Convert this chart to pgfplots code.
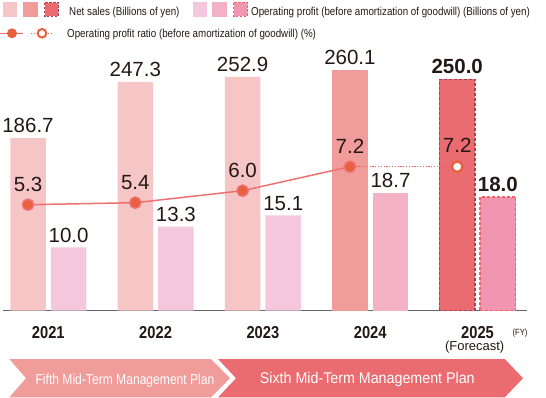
\documentclass[border=0pt]{standalone}
\usepackage{pgfplots}
\pgfplotsset{compat=1.18}
\usepackage{fontspec}
\setmainfont{Liberation Sans}
\newfontfamily\cond[FakeStretch=0.85]{Liberation Sans}
\usepackage{graphicx}

\definecolor{salesL}{HTML}{F6C5C6}
\definecolor{salesM}{HTML}{F09C9B}
\definecolor{salesD}{HTML}{EA6C70}
\definecolor{profL}{HTML}{F4C7DD}
\definecolor{profM}{HTML}{F3B1C5}
\definecolor{profD}{HTML}{F096B1}
\definecolor{ratioL}{HTML}{EE7172}
\definecolor{marker}{HTML}{EA603F}
\definecolor{dashS}{HTML}{A9414F}
\definecolor{dashP}{HTML}{F0616B}
\definecolor{dotc}{HTML}{EE5A5E}
\definecolor{txt}{HTML}{231815}
\definecolor{axisc}{HTML}{666666}

\pgfplotsset{
  base/.style={at={(3pt,-310.7pt)}, anchor=south west, scale only axis,
    width=524pt, height=310.7pt, xmin=-0.4222, xmax=4.4613, ymin=0, clip=false},
  vlab/.style 2 args={nodes near coords={\pgfmathprintnumber[fixed,fixed zerofill,precision=1,assume math mode=true]{\pgfplotspointmeta}},
    every node near coord/.append style={anchor=base, inner sep=0pt, yshift=#1, xshift=#2, text=txt, font=\fontsize{20.5}{22}\selectfont}},
  vlabB/.style 2 args={nodes near coords={\pgfmathprintnumber[fixed,fixed zerofill,precision=1,assume math mode=true]{\pgfplotspointmeta}},
    every node near coord/.append style={anchor=base, inner sep=0pt, yshift=#1, xshift=#2, text=txt, font=\bfseries\fontsize{20.5}{22}\selectfont}},
}

\begin{document}
\begin{tikzpicture}
\path[use as bounding box] (0,0) rectangle (546pt,-398pt);

% ---------- Net sales ----------
\begin{axis}[base, ymax=335.9,
  axis x line=bottom, axis y line=none,
  x axis line style={-, draw=axisc, line width=1pt},
  xtick={0,1,2,3,4}, xticklabels={2021,2022,2023,2024,2025},
  xtick style={draw=none}, ytick=\empty,
  xticklabel style={anchor=north, inner sep=0pt, yshift=-13.3pt, text=txt,
    font=\cond\bfseries\fontsize{17.3}{19}\selectfont}]
\addplot[ybar, bar width=35.5pt, bar shift=-20.3pt, fill=salesL, draw=none, vlab={5.5pt}{-20.3pt}]
  coordinates {(0,186.7) (1,247.3) (2,252.9)};
\addplot[ybar, bar width=35.5pt, bar shift=-20.3pt, fill=salesM, draw=none, vlab={5.5pt}{-20.3pt}]
  coordinates {(3,260.1)};
\addplot[ybar, bar width=35.5pt, bar shift=-20.3pt, fill=salesD, draw=dashS, line width=1.3pt,
  dash pattern=on 3pt off 2pt, vlabB={5.5pt}{-20.3pt}]
  coordinates {(4,250.0)};
\end{axis}

% ---------- Operating profit ----------
\begin{axis}[base, ymax=49.16, hide axis]
\addplot[ybar, bar width=35.5pt, bar shift=20.3pt, fill=profL, draw=none, vlab={5pt}{20.3pt}]
  coordinates {(0,10.0) (1,13.3) (2,15.1)};
\addplot[ybar, bar width=35.5pt, bar shift=20.3pt, fill=profM, draw=none, vlab={5pt}{20.3pt}]
  coordinates {(3,18.7)};
\addplot[ybar, bar width=35.5pt, bar shift=20.3pt, fill=profD, draw=dashP, line width=1.3pt,
  dash pattern=on 3pt off 2pt, vlabB={5pt}{20.3pt}]
  coordinates {(4,18.0)};
\end{axis}

% ---------- Operating profit ratio ----------
\begin{axis}[base, ymax=15.535, hide axis]
\addplot[dotc, line width=1.5pt, dash pattern=on 1.2pt off 1.6pt]
  coordinates {(2.8108,7.2) (3.8108,7.2)};
\addplot[ratioL, line width=1.5pt, mark=*, mark size=5.6pt,
  mark options={fill=marker, draw=none, solid}, vlab={13pt}{0pt}]
  coordinates {(-0.1892,5.3) (0.8108,5.4) (1.8108,6.0) (2.8108,7.2)};
\addplot[only marks, mark=*, mark size=5.3pt,
  mark options={fill=white, draw=marker, line width=2.4pt}, vlab={14pt}{0pt}]
  coordinates {(3.8108,7.2)};
\end{axis}

% ---------- extra axis texts ----------
\node[text=txt, inner sep=0pt, font=\fontsize{13}{15}\selectfont] at (474.7pt,-347.5pt) {(Forecast)};
\node[text=txt, inner sep=0pt, font=\cond\fontsize{9}{10}\selectfont] at (520pt,-332.7pt) {(FY)};

% ---------- legend ----------
\fill[salesL] (3pt,-2pt) rectangle (17pt,-17pt);
\fill[salesM] (23pt,-2pt) rectangle (38pt,-17pt);
\filldraw[fill=salesD, draw=dashS, line width=1.2pt, dash pattern=on 2.5pt off 1.5pt] (44.6pt,-2.6pt) rectangle (58.4pt,-16.4pt);
\node[anchor=base west, inner sep=0pt, text=txt, font=\cond\fontsize{11.5}{13}\selectfont] at (69pt,-16pt) {Net sales (Billions of yen)};
\fill[profL] (193pt,-2pt) rectangle (207pt,-17pt);
\fill[profM] (212pt,-2pt) rectangle (227pt,-17pt);
\filldraw[fill=profD, draw=dashP, line width=1.2pt, dash pattern=on 2.5pt off 1.5pt] (233.6pt,-2.6pt) rectangle (247.4pt,-16.4pt);
\node[anchor=base west, inner sep=0pt, text=txt, font=\cond\fontsize{11.5}{13}\selectfont] at (251pt,-16pt) {Operating profit (before amortization of goodwill) (Billions of yen)};
\draw[ratioL, line width=1.5pt] (0pt,-33.3pt) -- (23pt,-33.3pt);
\fill[marker] (12pt,-33.3pt) circle (5pt);
\draw[dotc, line width=1.5pt, dash pattern=on 1.2pt off 1.6pt] (31pt,-33.3pt) -- (53pt,-33.3pt);
\draw[marker, line width=2pt, fill=white] (42pt,-33.3pt) circle (4.3pt);
\node[anchor=base west, inner sep=0pt, text=txt, font=\cond\fontsize{11.5}{13}\selectfont] at (67pt,-37.5pt) {Operating profit ratio (before amortization of goodwill) (\%)};

% ---------- plan arrows ----------
\fill[salesM] (9.3pt,-359pt) -- (211pt,-359pt) -- (230pt,-378.2pt) -- (211pt,-397.4pt) -- (9.3pt,-397.4pt) -- (26pt,-378.2pt) -- cycle;
\fill[salesD] (218pt,-359pt) -- (504.7pt,-359pt) -- (523pt,-378.2pt) -- (504.7pt,-397.4pt) -- (218pt,-397.4pt) -- (236pt,-378.2pt) -- cycle;
\node[text=white, font=\fontsize{14.4}{16}\selectfont] at (125pt,-381pt) {\scalebox{0.84}[1]{Fifth Mid-Term Management Plan}};
\node[text=white, font=\fontsize{15.5}{17}\selectfont] at (367.3pt,-379pt) {\scalebox{0.92}[1]{Sixth Mid-Term Management Plan}};
\end{tikzpicture}
\end{document}
